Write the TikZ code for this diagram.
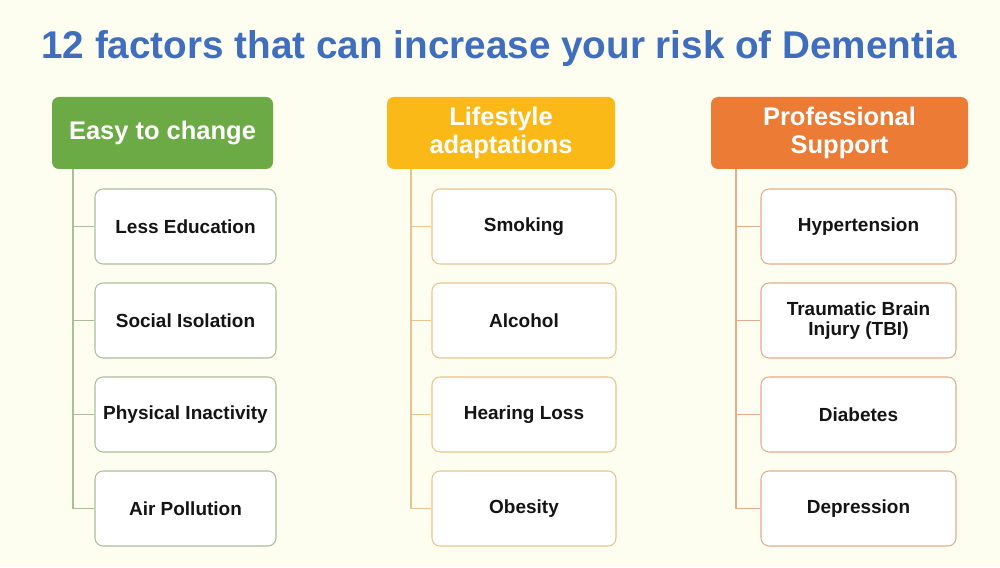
\documentclass[tikz,border=0pt]{standalone}
\usepackage{fontspec}
\setmainfont{Liberation Sans}
\usetikzlibrary{positioning,calc}
\definecolor{cream}{HTML}{FDFDF0}
\definecolor{titleblue}{HTML}{3F6EBE}
\definecolor{leaf}{HTML}{6BAA45}
\definecolor{amber}{HTML}{FBB917}
\definecolor{rust}{HTML}{EB7B35}
\definecolor{leafline}{HTML}{ABBD9A}
\definecolor{amberline}{HTML}{E6C58E}
\definecolor{rustline}{HTML}{E4AC8E}
\definecolor{ink}{HTML}{141414}

\begin{document}
\begin{tikzpicture}[
  font=\bfseries,
  header/.style={rounded corners=1.4mm, minimum height=1.44cm, align=center,
                 text=white, font=\bfseries\fontsize{14.5}{15.5}\selectfont, inner sep=1mm},
  easy/.style={header, fill=leaf, minimum width=4.42cm},
  habit/.style={header, fill=amber, minimum width=4.56cm},
  expert/.style={header, fill=rust, minimum width=5.14cm},
  factor/.style={rounded corners=1.6mm, minimum height=1.5cm, align=center,
                 fill=white, text=ink, line width=0.6pt,
                 font=\bfseries\fontsize{10.8}{11.5}\selectfont, inner sep=1mm},
  easyfactor/.style={factor, draw=leafline, minimum width=3.62cm},
  habitfactor/.style={factor, draw=amberline, minimum width=3.68cm},
  expertfactor/.style={factor, draw=rustline, minimum width=3.90cm},
  link/.style={line width=0.9pt}
]
\useasboundingbox[fill=cream] (0,0) rectangle (20,11.34);

\node[text=titleblue, font=\bfseries\fontsize{22}{24}\selectfont] (title) at (9.98,10.36)
  {12 factors that can increase your risk of Dementia};

% headers
\node[easy] (easy) at (3.25,8.68) {Easy to change};
\node[habit] (habit) at (10.02,8.68) {Lifestyle\\adaptations};
\node[expert] (expert) at (16.79,8.68) {Professional\\Support};

% easy to change
\node[easyfactor] (edu) at (3.71,6.81) {Less Education};
\node[easyfactor] (iso) at (3.71,4.93) {Social Isolation};
\node[easyfactor] (inact) at (3.71,3.05) {Physical Inactivity};
\node[easyfactor] (air) at (3.71,1.17) {Air Pollution};

% lifestyle
\node[habitfactor] (smoke) at (10.48,6.81) {Smoking};
\node[habitfactor] (alc) at (10.48,4.93) {Alcohol};
\node[habitfactor] (hear) at (10.48,3.05) {Hearing Loss};
\node[habitfactor] (obes) at (10.48,1.17) {Obesity};

% professional
\node[expertfactor] (hyper) at (17.17,6.81) {Hypertension};
\node[expertfactor] (tbi) at (17.17,4.93) {Traumatic Brain\\Injury (TBI)};
\node[expertfactor] (diab) at (17.17,3.05) {Diabetes};
\node[expertfactor] (depr) at (17.17,1.17) {Depression};

% connectors
\coordinate (easytrunk) at (1.46,0);
\coordinate (habittrunk) at (8.22,0);
\coordinate (experttrunk) at (14.72,0);

\draw[link, draw=leafline] (easy.south -| easytrunk) |- (air.west);
\draw[link, draw=leafline] (easytrunk |- edu) -- (edu.west);
\draw[link, draw=leafline] (easytrunk |- iso) -- (iso.west);
\draw[link, draw=leafline] (easytrunk |- inact) -- (inact.west);

\draw[link, draw=amberline] (habit.south -| habittrunk) |- (obes.west);
\draw[link, draw=amberline] (habittrunk |- smoke) -- (smoke.west);
\draw[link, draw=amberline] (habittrunk |- alc) -- (alc.west);
\draw[link, draw=amberline] (habittrunk |- hear) -- (hear.west);

\draw[link, draw=rustline] (expert.south -| experttrunk) |- (depr.west);
\draw[link, draw=rustline] (experttrunk |- hyper) -- (hyper.west);
\draw[link, draw=rustline] (experttrunk |- tbi) -- (tbi.west);
\draw[link, draw=rustline] (experttrunk |- diab) -- (diab.west);

\end{tikzpicture}
\end{document}
